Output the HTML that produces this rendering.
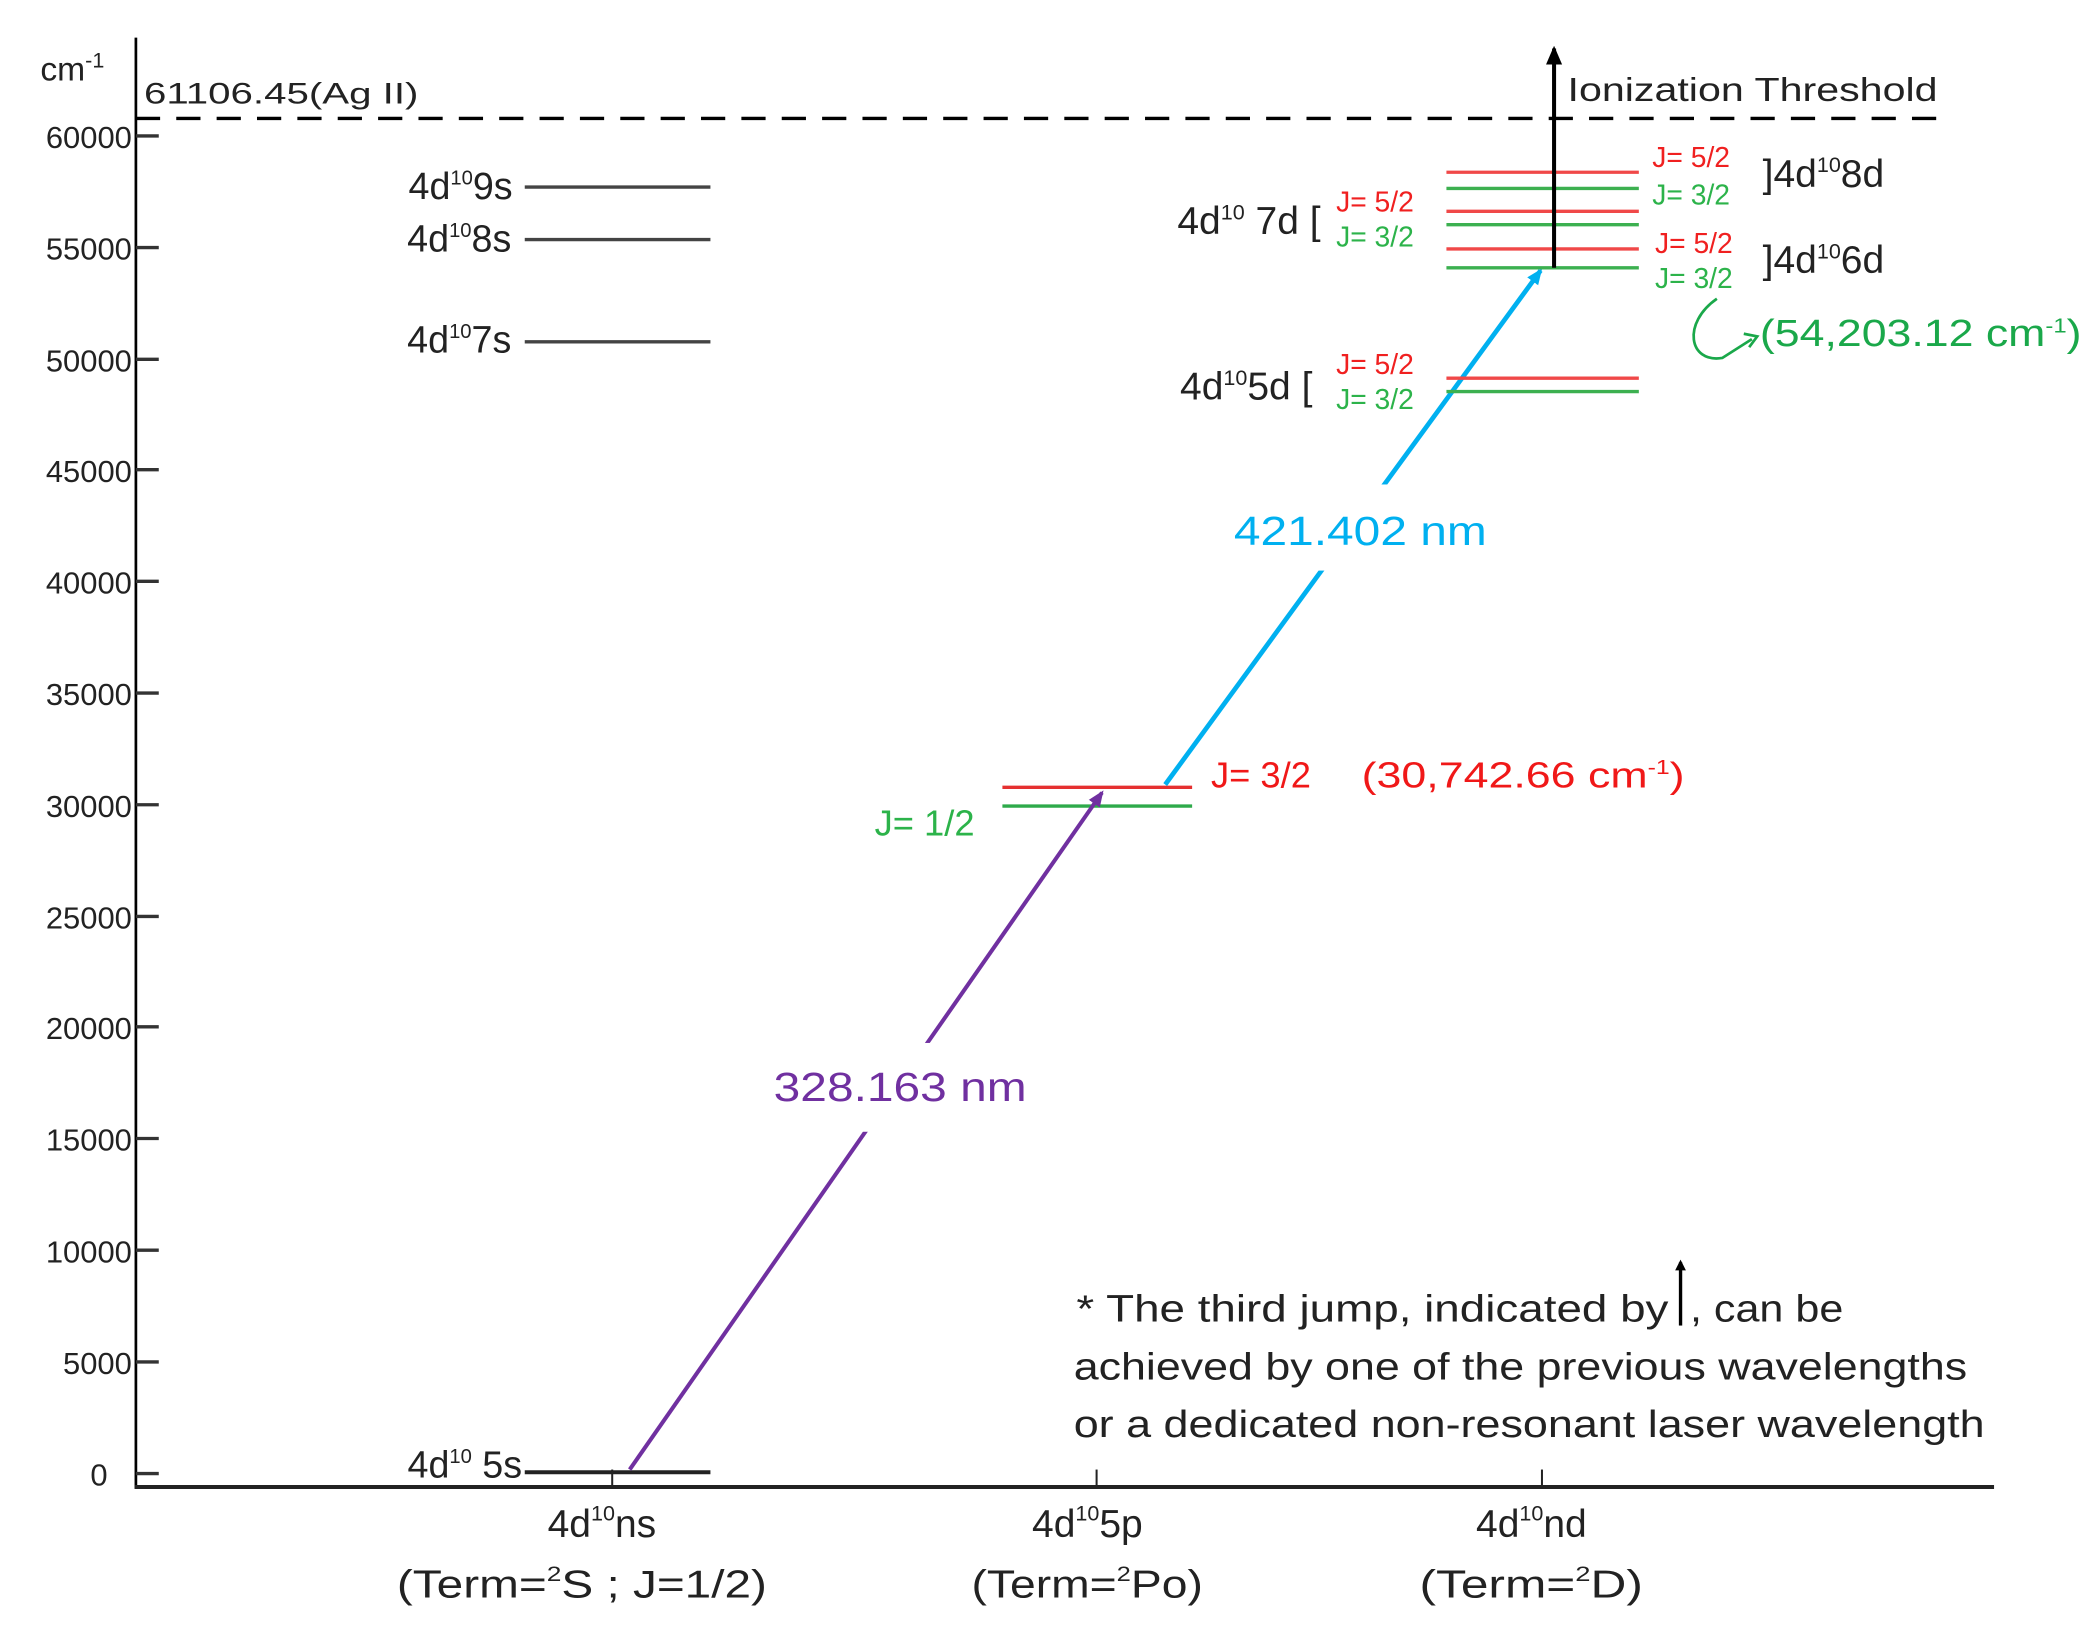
<!DOCTYPE html>
<html><head><meta charset="utf-8"><style>
html,body{margin:0;padding:0;background:#fff}
svg{display:block}
text{font-family:"Liberation Sans",sans-serif}
</style></head><body>
<svg width="2099" height="1627" viewBox="0 0 1560 1209" preserveAspectRatio="none" xmlns="http://www.w3.org/2000/svg">
<defs>
<marker id="ab" markerWidth="8" markerHeight="8" refX="6" refY="4" orient="auto" markerUnits="userSpaceOnUse"><path d="M0,0 L8,4 L0,8 z" fill="#000"/></marker>
<marker id="ap" markerWidth="12" markerHeight="12" refX="10" refY="6" orient="auto" markerUnits="userSpaceOnUse"><path d="M0,1 L12,6 L0,11 z" fill="#7030a0"/></marker>
<marker id="ac" markerWidth="12" markerHeight="12" refX="10" refY="6" orient="auto" markerUnits="userSpaceOnUse"><path d="M0,1 L12,6 L0,11 z" fill="#00b0f0"/></marker>
<marker id="ak" markerWidth="14" markerHeight="14" refX="12" refY="7" orient="auto" markerUnits="userSpaceOnUse"><path d="M0,1 L14,7 L0,13 z" fill="#000"/></marker>
</defs>
<line x1="101" y1="28" x2="101" y2="1106" stroke="#000" stroke-width="2"/>
<line x1="100" y1="1105" x2="1482" y2="1105" stroke="#222" stroke-width="3"/>
<g stroke="#333" stroke-width="2.5">
<line x1="101" y1="101" x2="118" y2="101"/><line x1="101" y1="184" x2="118" y2="184"/><line x1="101" y1="267" x2="118" y2="267"/><line x1="101" y1="349" x2="118" y2="349"/><line x1="101" y1="432" x2="118" y2="432"/><line x1="101" y1="515" x2="118" y2="515"/><line x1="101" y1="598" x2="118" y2="598"/><line x1="101" y1="681" x2="118" y2="681"/><line x1="101" y1="763" x2="118" y2="763"/><line x1="101" y1="846" x2="118" y2="846"/><line x1="101" y1="929" x2="118" y2="929"/><line x1="101" y1="1012" x2="118" y2="1012"/><line x1="101" y1="1095" x2="118" y2="1095"/>
</g>
<g font-size="23" fill="#222" text-anchor="end">
<text x="98" y="110">60000</text><text x="98" y="193">55000</text><text x="98" y="276">50000</text><text x="98" y="358">45000</text><text x="98" y="441">40000</text><text x="98" y="524">35000</text><text x="98" y="607">30000</text><text x="98" y="690">25000</text><text x="98" y="772">20000</text><text x="98" y="855">15000</text><text x="98" y="938">10000</text><text x="98" y="1021">5000</text><text x="80" y="1104">0</text>
</g>
<text x="30" y="60" font-size="25" fill="#222">cm<tspan dy="-10" font-size="16">-1</tspan></text>
<text x="107" y="77" font-size="22" fill="#222" textLength="204" lengthAdjust="spacingAndGlyphs">61106.45(Ag II)</text>
<line x1="101" y1="88" x2="1440" y2="88" stroke="#000" stroke-width="2.5" stroke-dasharray="18 12"/>
<g stroke="#222" stroke-width="1.5"><line x1="455" y1="1092" x2="455" y2="1105"/><line x1="815" y1="1092" x2="815" y2="1105"/><line x1="1146" y1="1092" x2="1146" y2="1105"/></g>
<g font-size="29" fill="#222">
<text x="407" y="1142">4d<tspan dy="-12" font-size="16">10</tspan><tspan dy="12">ns</tspan></text>
<text x="295" y="1187" textLength="275" lengthAdjust="spacingAndGlyphs">(Term=<tspan dy="-12" font-size="16">2</tspan><tspan dy="12">S ; J=1/2)</tspan></text>
<text x="767" y="1142">4d<tspan dy="-12" font-size="16">10</tspan><tspan dy="12">5p</tspan></text>
<text x="722" y="1187" textLength="172" lengthAdjust="spacingAndGlyphs">(Term=<tspan dy="-12" font-size="16">2</tspan><tspan dy="12">Po)</tspan></text>
<text x="1097" y="1142">4d<tspan dy="-12" font-size="16">10</tspan><tspan dy="12">nd</tspan></text>
<text x="1055" y="1187" textLength="166" lengthAdjust="spacingAndGlyphs">(Term=<tspan dy="-12" font-size="16">2</tspan><tspan dy="12">D)</tspan></text>
</g>
<g stroke="#444" stroke-width="2.5"><line x1="390" y1="139" x2="528" y2="139"/><line x1="390" y1="178" x2="528" y2="178"/><line x1="390" y1="254" x2="528" y2="254"/></g>
<line x1="390" y1="1094" x2="528" y2="1094" stroke="#222" stroke-width="3"/>
<g font-size="28" fill="#222" text-anchor="end">
<text x="381" y="148">4d<tspan dy="-11" font-size="15">10</tspan><tspan dy="11">9s</tspan></text>
<text x="380" y="187">4d<tspan dy="-11" font-size="15">10</tspan><tspan dy="11">8s</tspan></text>
<text x="380" y="262">4d<tspan dy="-11" font-size="15">10</tspan><tspan dy="11">7s</tspan></text>
<text x="388" y="1098">4d<tspan dy="-11" font-size="15">10</tspan><tspan dy="11"> 5s</tspan></text>
</g>
<line x1="745" y1="585" x2="886" y2="585" stroke="#e53030" stroke-width="2.5"/>
<line x1="745" y1="599" x2="886" y2="599" stroke="#2eaa4a" stroke-width="2.5"/>
<text x="900" y="585" font-size="27" fill="#f01818">J= 3/2</text>
<text x="1012" y="585" font-size="27" fill="#f01818" textLength="240" lengthAdjust="spacingAndGlyphs">(30,742.66 cm<tspan dy="-10" font-size="15">-1</tspan><tspan dy="10">)</tspan></text>
<text x="650" y="621" font-size="27" fill="#2cb34a">J= 1/2</text>
<line x1="468" y1="1092" x2="819" y2="589" stroke="#7030a0" stroke-width="3" marker-end="url(#ap)"/>
<line x1="866" y1="583" x2="1145" y2="201" stroke="#00b0f0" stroke-width="3.5" marker-end="url(#ac)"/>
<rect x="570" y="775" width="200" height="66" fill="#fff"/>
<rect x="912" y="360" width="200" height="64" fill="#fff"/>
<text x="575" y="818" font-size="30" fill="#7030a0" textLength="188" lengthAdjust="spacingAndGlyphs">328.163 nm</text>
<text x="917" y="405" font-size="30" fill="#00b0f0" textLength="188" lengthAdjust="spacingAndGlyphs">421.402 nm</text>
<g stroke-width="2.5">
<line x1="1075" y1="128" x2="1218" y2="128" stroke="#f04848"/>
<line x1="1075" y1="140" x2="1218" y2="140" stroke="#3cb050"/>
<line x1="1075" y1="157" x2="1218" y2="157" stroke="#f04848"/>
<line x1="1075" y1="167" x2="1218" y2="167" stroke="#3cb050"/>
<line x1="1075" y1="185" x2="1218" y2="185" stroke="#f04848"/>
<line x1="1075" y1="199" x2="1218" y2="199" stroke="#3cb050"/>
<line x1="1075" y1="281" x2="1218" y2="281" stroke="#f04848"/>
<line x1="1075" y1="291" x2="1218" y2="291" stroke="#3cb050"/>
</g>
<line x1="1155" y1="199" x2="1155" y2="36" stroke="#000" stroke-width="3" marker-end="url(#ak)"/>
<text x="1165" y="75" font-size="25" fill="#222" textLength="275" lengthAdjust="spacingAndGlyphs">Ionization Threshold</text>
<g font-size="29" fill="#222">
<text x="875" y="174">4d<tspan dy="-11" font-size="16">10</tspan><tspan dy="11"> 7d [</tspan></text>
<text x="877" y="297">4d<tspan dy="-11" font-size="16">10</tspan><tspan dy="11">5d [</tspan></text>
<text x="1310" y="139">]4d<tspan dy="-11" font-size="16">10</tspan><tspan dy="11">8d</tspan></text>
<text x="1310" y="203">]4d<tspan dy="-11" font-size="16">10</tspan><tspan dy="11">6d</tspan></text>
</g>
<g font-size="21">
<text x="993" y="157" fill="#f02020">J= 5/2</text><text x="993" y="183" fill="#2cb34a">J= 3/2</text>
<text x="993" y="278" fill="#f02020">J= 5/2</text><text x="993" y="304" fill="#2cb34a">J= 3/2</text>
<text x="1228" y="124" fill="#f02020">J= 5/2</text><text x="1228" y="152" fill="#2cb34a">J= 3/2</text>
<text x="1230" y="188" fill="#f02020">J= 5/2</text><text x="1230" y="214" fill="#2cb34a">J= 3/2</text>
</g>
<text x="1308" y="257" font-size="28" fill="#1aa84a" textLength="239" lengthAdjust="spacingAndGlyphs">(54,203.12 cm<tspan dy="-10" font-size="15">-1</tspan><tspan dy="10">)</tspan></text>
<path d="M1276,222 C1250,240 1255,270 1280,266 L1302,252" fill="none" stroke="#1aa84a" stroke-width="2"/>
<path d="M1296,248 L1306,250 L1300,258" fill="none" stroke="#1aa84a" stroke-width="2"/>
<g font-size="28" fill="#222">
<text x="800" y="982" textLength="440" lengthAdjust="spacingAndGlyphs">* The third jump, indicated by</text>
<text x="1256" y="982" textLength="114" lengthAdjust="spacingAndGlyphs">, can be</text>
<text x="798" y="1025" textLength="664" lengthAdjust="spacingAndGlyphs">achieved by one of the previous wavelengths</text>
<text x="798" y="1068" textLength="677" lengthAdjust="spacingAndGlyphs">or a dedicated non-resonant laser wavelength</text>
</g>
<line x1="1249" y1="985" x2="1249" y2="938" stroke="#000" stroke-width="2.5" marker-end="url(#ab)"/>
</svg>
</body></html>
